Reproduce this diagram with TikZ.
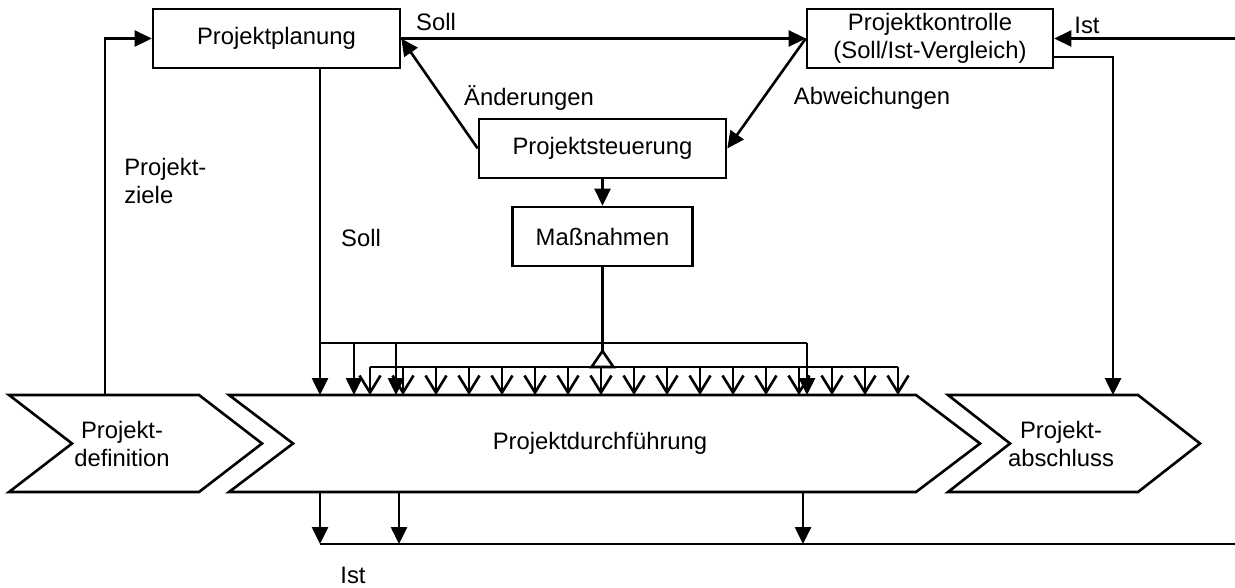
\documentclass[tikz,border=0pt]{standalone}
\usepackage{fontspec}
\setmainfont{Liberation Sans}
\usetikzlibrary{arrows.meta,calc}
\begin{document}
\begin{tikzpicture}[x=1pt,y=-1pt,
  line width=2.6pt,
  every node/.style={font=\fontsize{23.8}{28}\selectfont},
  box/.style={draw, line width=2.6pt, inner sep=0pt, minimum height=59pt, align=center, fill=white},
  lbl/.style={inner sep=0pt, align=left},
  fa/.style={-{Triangle[length=17pt,width=16pt]}},
  va/.style={-{Straight Barb[length=17pt,width=21pt]}},
  phase/.style={draw, line width=2.6pt, line join=miter}
]
\useasboundingbox (0,0) rectangle (1235,587);

% control boxes
\node[box, minimum width=247pt] (plan) at (276.5,38.5) {Projektplanung};
\node[box, minimum width=246pt] (kont) at (930,38.5) {Projektkontrolle\\(Soll/Ist-Vergleich)};
\node[box, minimum width=247pt] (steu) at (602.5,148.5) {Projektsteuerung};
\node[box, minimum width=180pt] (mass) at (602.5,236.5) {Maßnahmen};

% project phases
\draw[phase] (9,395) -- (199,395) -- (262,443.5) -- (199,492) -- (9,492) -- (72,443.5) -- cycle;
\node[align=center] (def) at (122,444) {Projekt-\\definition};
\draw[phase] (229,395) -- (916,395) -- (980,443.5) -- (916,492) -- (229,492) -- (293,443.5) -- cycle;
\node (durch) at (600,443.5) {Projektdurchführung};
\draw[phase] (948,395) -- (1138,395) -- (1200,443.5) -- (1138,492) -- (948,492) -- (1010,443.5) -- cycle;
\node[align=center] (absch) at (1061,444) {Projekt-\\abschluss};

% connector end points
\coordinate (defTop) at (105,395);
\coordinate (istIn) at (1235,38.5);
\coordinate (kOut) at (1053,57);
\coordinate (abTop) at (1113,395);
\coordinate (busA) at (320,343);
\coordinate (busB) at (807,343);
\coordinate (sollTop) at (320,395);
\coordinate (tri) at (602.5,351);
\coordinate (istL) at (320,544);
\coordinate (istR) at (1235,544);

% control loop
\draw[fa] (defTop) |- (plan.west);
\draw[fa] (plan.east) -- (kont.west);
\draw[fa] (istIn) -- (kont.east);
\draw[fa] (kOut) -| (abTop);
\draw[fa] (kont.west) -- (steu.east);
\draw[fa] (steu.west) -- (plan.east);
\draw[fa] (steu.south) -- (mass.north);

% measures distributed over the execution phase
\draw (370,367) -- (898,367);
\foreach \k in {0,...,16}
  \draw[va] ({370+33*\k},367) -- ({370+33*\k},395);
\draw (mass.south) -- (tri);
\draw[fill=white, line join=miter] (tri) -- (591.5,367) -- (613.5,367) -- cycle;

% planned values distributed over the execution phase
\draw[fa] (busA |- plan.south) -- (sollTop);
\draw (busA) -| (busB);
\foreach \x in {354,396,807}
  \draw[fa] (\x,343) -- (\x,395);

% actual values
\draw (istL) -- (istR);
\foreach \x in {320,399,803}
  \draw[fa] (\x,492) -- (\x,544);

% labels
\node[lbl] (lSoll1) at (436,22) {Soll};
\node[lbl] (lAend) at (529,98) {Änderungen};
\node[lbl] (lAbw) at (872,98) {Abweichungen};
\node[lbl, anchor=west] (lZiele) at (123,181) {Projekt-\\ziele};
\node[lbl] (lSoll2) at (361,238) {Soll};
\node[lbl] (lIst1) at (1087,25) {Ist};
\node[lbl] (lIst2) at (353,575) {Ist};
\end{tikzpicture}
\end{document}
